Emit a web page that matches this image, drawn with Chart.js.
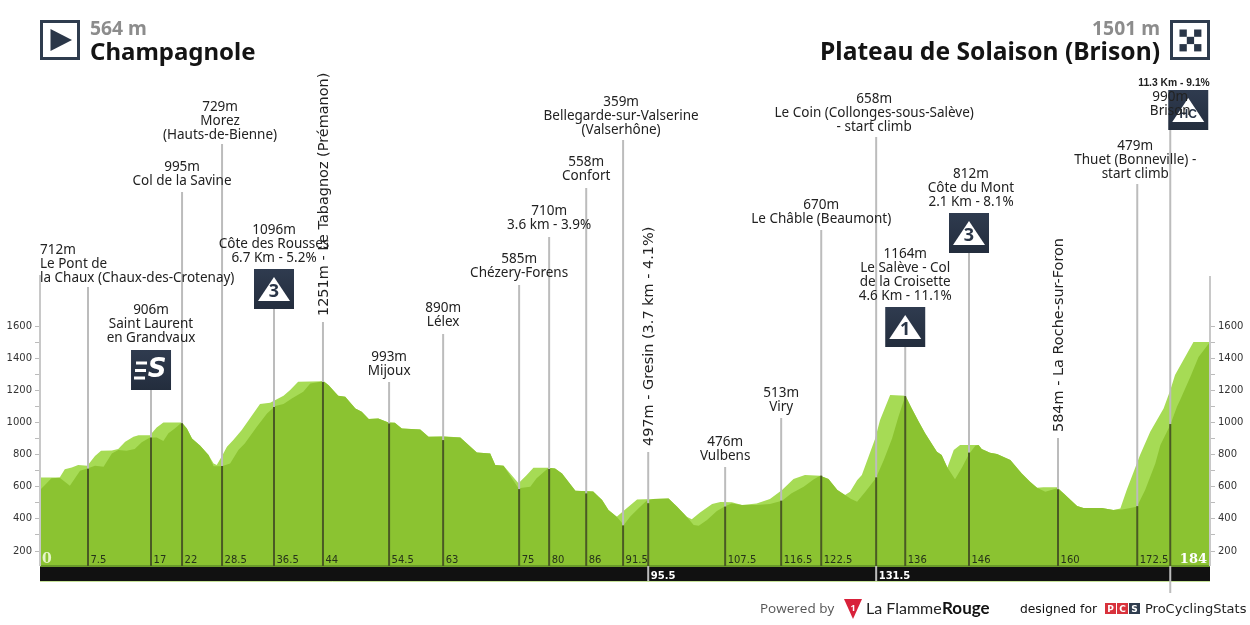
<!DOCTYPE html>
<html lang="en">
<head>
    <meta charset="UTF-8">
    <title>Champagnole - Plateau de Solaison (Brison)</title>
    <script src="https://cdn.jsdelivr.net/npm/chart.js"></script>
    <style>
        html, body { margin: 0; padding: 0; background: #fff; overflow: hidden; }
        canvas { display: block; }
    </style>
</head>
<body>
    <canvas id="profileChart" width="1250" height="625"></canvas>

    <script>
        // profile: light = top face, dark = front face
        const lightKm = [0,3.1,3.9,5,6,7.45,8.65,9.6,11.3,12.3,13.4,14.7,15.5,17.3,18.35,19.4,22.3,23.1,23.9,25.2,26.5,27.3,27.8,28.6,29.4,30.4,31.7,33,34.6,36.2,38.3,39.3,40.6,44.6,45.4,46.9,48,49.6,50.6,51.7,53.2,54.8,55.8,56.9,59.8,61.1,63.45,66.1,67.4,68.7,70.8,71.6,72.9,75.25,76.55,77.6,80,81,82.1,83.1,84.2,87,88.4,89.4,90.7,91.8,93.9,98.85,100.2,101.7,102.5,103.8,105.7,107,108.8,110.4,112.7,114.8,116.7,118.5,120.3,122.7,124,125.4,126.6,127.4,128.5,129.25,130.3,131.35,132.1,133.7,136.1,137.1,138.2,139.2,141.05,141.8,142.7,143.7,144.7,147.6,148.1,149.4,150.5,152.6,154.4,155.7,156.8,157.8,160,161,163.1,164.1,167,168.8,169.9,170.9,171.7,173,174.6,176.7,177.75,178.5,181.4,184];
        const lightElev = [658,658,708,720,735,730,791,824,826,834,880,911,921,921,969,1000,1000,963,900,855,797,745,735,790,849,890,952,1025,1114,1122,1166,1201,1253,1257,1232,1166,1160,1087,1066,1021,1025,1000,998,963,956,911,914,907,859,813,807,735,730,621,673,718,718,714,683,631,575,571,517,455,413,451,521,527,476,413,397,440,492,505,503,486,496,523,579,648,673,668,648,579,548,569,641,673,787,900,1014,1170,1166,1087,1004,932,818,797,720,828,859,859,834,811,803,766,683,631,594,596,596,558,480,467,467,455,465,579,662,797,942,1087,1200,1295,1501,1501];

        const darkKm = [0,1.05,1.8,3.1,3.9,4.7,5.5,6.3,7.45,8.65,10,11.3,12.3,13.6,14.9,16,17.3,18.35,19.4,20.2,21.2,22.3,23.1,23.9,25.2,26.5,27.3,28.6,29.9,31.2,32.2,34.1,35.7,37,38.3,39.6,41.4,42.5,44.6,45.4,46.9,48,49.6,50.6,51.7,53.2,54.8,55.8,56.9,59.8,61.1,63.45,66.1,67.4,68.7,70.8,71.6,72.9,75.25,77.1,78.1,80,81,82.1,83.1,84.2,87,88.4,89.4,90.7,91.8,92.8,94.1,95.4,96.5,98.85,100.2,101.7,102.8,103.6,104.9,106.45,107.8,108.8,110.4,112.7,114.8,116.7,118.2,120.1,121.7,122.7,124,125.4,126.6,127.5,128.5,129.8,131.45,132.7,134,135,136.1,137.1,138.2,139.2,141.05,141.8,142.7,143.9,145,146.1,147.1,147.6,148.1,149.4,150.5,152.6,154.4,155.7,156.8,158.1,160,161,163.1,164.1,167,168.8,170.2,172.5,173.8,175.4,176.2,177.75,178.8,179.3,180.9,182.2,184];
        const darkElev = [579,621,652,656,631,606,652,700,714,730,724,807,828,824,834,876,907,907,884,932,963,1000,963,900,855,797,728,728,745,828,869,973,1056,1102,1114,1149,1191,1243,1257,1232,1166,1160,1087,1066,1021,1025,1000,998,963,956,911,911,907,859,813,807,735,730,590,600,652,718,714,683,631,575,571,517,455,413,362,413,465,513,523,527,476,413,362,357,393,449,480,496,486,486,492,513,559,600,646,668,648,579,548,525,507,569,652,766,900,1035,1166,1087,1004,932,818,797,720,646,720,803,855,859,834,811,803,766,683,631,594,569,590,558,480,467,467,455,459,476,579,745,859,984,1097,1140,1283,1407,1501];

        // places along the route, km as measured, printed km rounded to .5
        const markerKm = [7.55,17.46,22.34,28.63,36.8,44.5,54.9,63.4,75.35,80.07,85.9,91.7,95.65,107.75,116.56,122.86,131.5,136.07,146.1,160.1,172.56,177.75];
        const markerElev = [712,906,995,729,1096,1251,993,890,585,710,558,359,497,476,513,670,658,1164,812,584,479,990];
        const markerKmLabels = ['7.5','17','22','28.5','36.5','44','54.5','63','75','80','86','91.5','95.5','107.5','116.5','122.5','131.5','136','146','160','172.5',''];
        const markerText = [
            ['712m', 'Le Pont de', 'la Chaux (Chaux-des-Crotenay)'],
            ['906m', 'Saint Laurent', 'en Grandvaux'],
            ['995m', 'Col de la Savine'],
            ['729m', 'Morez', '(Hauts-de-Bienne)'],
            ['1096m', 'Côte des Rousses', '6.7 Km - 5.2%'],
            ['1251m - Le Tabagnoz (Prémanon)'],
            ['993m', 'Mijoux'],
            ['890m', 'Lélex'],
            ['585m', 'Chézery-Forens'],
            ['710m', '3.6 km - 3.9%'],
            ['558m', 'Confort'],
            ['359m', 'Bellegarde-sur-Valserine', '(Valserhône)'],
            ['497m - Gresin (3.7 km - 4.1%)'],
            ['476m', 'Vulbens'],
            ['513m', 'Viry'],
            ['670m', 'Le Châble (Beaumont)'],
            ['658m', 'Le Coin (Collonges-sous-Salève)', '- start climb'],
            ['1164m', 'Le Salève - Col', 'de la Croisette', '4.6 Km - 11.1%'],
            ['812m', 'Côte du Mont', '2.1 Km - 8.1%'],
            ['584m - La Roche-sur-Foron'],
            ['479m', 'Thuet (Bonneville) -', 'start climb'],
            ['990m', 'Brison']
        ];
        const badgeText = { 1: 'S', 4: '3', 17: '1', 18: '3', 21: 'HC' };
        const elevationTicks = [200,300,400,500,600,700,800,900,1000,1100,1200,1300,1400,1500,1600];

        // pixel layout of the chart, not data
        const stemTopPx = [287,390,192,144,309,322,382,334,285,237,188,140,452,467,418,230,137,347,253,438,184,127];
        const labelTopPx = [249,309,166,106,229,0,356,307,258,210,161,101,0,441,392,204,98,253,173,0,145,96];
        const labelShiftX = { 3: -2, 11: -2, 16: -2, 18: 2, 20: -2 };
        const badgeShiftX = { 21: 18 };
        const badgeBottomPx = { 21: 130 };
        const rotatedLabels = [5, 12, 19];
        const throughBand = { 12: 581, 16: 581, 21: 593 };
        const PX_PER_M = 0.1607;
        const elevAt = px => 200 + (551 - px) / PX_PER_M;
        const baseElev = elevAt(566);
        const bandElev = elevAt(581);

        const labelFont = '13.5px "Noto Sans"';
        const rotatedFont = '14.45px "DejaVu Sans"';
        const navy = '#2a3648';

        function toPoints(xs, ys) {
            return xs.map((x, i) => ({ x: x, y: ys[i] }));
        }

        function stem(km, from, to, color) {
            return {
                data: [{ x: km, y: from }, { x: km, y: to }],
                borderColor: color, borderWidth: 2, pointRadius: 0, fill: false, clip: false
            };
        }

        const datasets = [];
        // front marks first, chart.js paints the first dataset on top
        markerKm.forEach((km, i) => {
            datasets.push(stem(km, baseElev, markerElev[i], '#4a5a24'));
            datasets.push(stem(km, markerElev[i], elevAt(stemTopPx[i]), '#bcbcbc'));
            if (throughBand[i]) {
                datasets.push(stem(km, baseElev, elevAt(throughBand[i]), '#bcbcbc'));
            }
        });
        datasets.push(stem(0, baseElev, elevAt(275), '#c8c8c8'));
        datasets.push(stem(184, baseElev, elevAt(276), '#c8c8c8'));
        datasets.push({
            data: [{ x: 0, y: baseElev }, { x: 184, y: baseElev }],
            borderColor: '#6a9a2a', borderWidth: 2, pointRadius: 0,
            backgroundColor: '#111111', fill: { value: bandElev }, clip: false
        });
        datasets.push({
            data: [{ x: 0, y: bandElev }, { x: 184, y: bandElev }],
            borderColor: '#8cc431', borderWidth: 1, pointRadius: 0, fill: false, clip: false
        });
        datasets.push({
            data: toPoints(darkKm, darkElev),
            borderWidth: 0, pointRadius: 0, backgroundColor: '#8bc331', fill: { value: baseElev }
        });
        datasets.push({
            data: toPoints(lightKm, lightElev),
            borderWidth: 0, pointRadius: 0, backgroundColor: '#a6db55', fill: { value: baseElev }
        });

        function drawBadge(ctx, cx, bottom, text) {
            const left = cx - 20, top = bottom - 40;
            const grad = ctx.createLinearGradient(0, top, 0, bottom);
            grad.addColorStop(0, '#2f3b4f');
            grad.addColorStop(1, '#232d3d');
            ctx.fillStyle = grad;
            ctx.fillRect(left, top, 40, 40);
            ctx.fillStyle = '#fff';
            ctx.textAlign = 'center';
            ctx.textBaseline = 'middle';
            if (text === 'S') {
                ctx.fillRect(cx - 15, top + 11.5, 11, 3);
                ctx.fillRect(cx - 16, top + 19, 11, 3);
                ctx.fillRect(cx - 17, top + 26.5, 11, 3);
                ctx.font = 'italic bold 26px "DejaVu Sans"';
                ctx.fillText('S', cx + 6, top + 20);
                return;
            }
            ctx.beginPath();
            ctx.moveTo(cx, top + 8);
            ctx.lineTo(left + 36, top + 32);
            ctx.lineTo(left + 4, top + 32);
            ctx.closePath();
            ctx.fill();
            ctx.fillStyle = navy;
            ctx.font = text === 'HC' ? 'bold 12px "Liberation Sans"' : 'bold 18px "Open Sans"';
            ctx.fillText(text, cx, top + (text === 'HC' ? 25 : 23));
        }

        const drawText = (ctx, text, x, y, font, color, align) => {
            ctx.font = font;
            ctx.fillStyle = color;
            ctx.textAlign = align || 'left';
            ctx.textBaseline = 'alphabetic';
            ctx.fillText(text, x, y);
        };

        const labelsPlugin = {
            id: 'stageLabels',
            afterDatasetsDraw(chart) {
                const ctx = chart.ctx;
                const x = chart.scales.x;
                ctx.save();

                // start and finish
                ctx.strokeStyle = '#2f3c4e';
                ctx.lineWidth = 3;
                ctx.strokeRect(41.5, 21.5, 37, 37);
                ctx.strokeRect(1171.5, 21.5, 37, 37);
                ctx.fillStyle = navy;
                ctx.beginPath();
                ctx.moveTo(50.5, 29);
                ctx.lineTo(72, 40);
                ctx.lineTo(50.5, 51);
                ctx.closePath();
                ctx.fill();
                for (let row = 0; row < 3; row++) {
                    for (let col = 0; col < 3; col++) {
                        if ((row + col) % 2 === 0) {
                            ctx.fillRect(1179.5 + col * 7.3, 29.5 + row * 7.3, 7.3, 7.3);
                        }
                    }
                }
                drawText(ctx, '564 m', 90, 35, 'bold 19.3px "Noto Sans"', '#8c8c8c');
                drawText(ctx, 'Champagnole', 90, 60, 'bold 24px "Noto Sans"', '#141414');
                drawText(ctx, '1501 m', 1160, 35, 'bold 19.3px "Noto Sans"', '#8c8c8c', 'right');
                drawText(ctx, 'Plateau de Solaison (Brison)', 1160, 60, 'bold 24.6px "Noto Sans"', '#141414', 'right');

                markerKm.forEach((km, i) => {
                    if (badgeText[i]) {
                        const px = x.getPixelForValue(km) + (badgeShiftX[i] || 0);
                        drawBadge(ctx, px, badgeBottomPx[i] || stemTopPx[i], badgeText[i]);
                    }
                });

                // place names
                markerKm.forEach((km, i) => {
                    const px = x.getPixelForValue(km);
                    if (rotatedLabels.includes(i)) {
                        ctx.save();
                        ctx.translate(px, stemTopPx[i] - 6);
                        ctx.rotate(-Math.PI / 2);
                        drawText(ctx, markerText[i][0], 0, 5, rotatedFont, '#222');
                        ctx.restore();
                        return;
                    }
                    markerText[i].forEach((line, n) => {
                        const y = labelTopPx[i] + n * 14 + 5;
                        if (i === 0) {
                            drawText(ctx, line, 40, y, labelFont, '#222');
                        } else {
                            drawText(ctx, line, px + (labelShiftX[i] || 0), y, labelFont, '#222', 'center');
                        }
                    });
                });

                // km along the bottom
                markerKmLabels.forEach((label, i) => {
                    const px = x.getPixelForValue(markerKm[i]);
                    if (throughBand[i] === 581) {
                        drawText(ctx, label, px + 2.5, 579, 'bold 10px "DejaVu Sans"', '#fff');
                    } else {
                        drawText(ctx, label, px + 2.5, 563, '10px "DejaVu Sans"', '#26331a');
                    }
                });
                drawText(ctx, '0', 42, 563, 'bold 14px "DejaVu Serif"', '#e6f5c8');
                drawText(ctx, '184', 1207, 563, 'bold 13px "DejaVu Serif"', '#fff', 'right');
                drawText(ctx, '11.3 Km - 9.1%', 1174, 86, 'bold 10.3px "Liberation Sans"', '#222', 'center');

                // footer
                drawText(ctx, 'Powered by', 760, 613, '13.5px "Open Sans"', '#555');
                ctx.fillStyle = '#d8213a';
                ctx.beginPath();
                ctx.moveTo(844, 599);
                ctx.lineTo(862, 599);
                ctx.lineTo(853, 619);
                ctx.closePath();
                ctx.fill();
                drawText(ctx, '1', 853, 611, 'bold 9px "Open Sans"', '#fff', 'center');
                drawText(ctx, 'La Flamme', 866, 614, '16px "Lato"', '#222');
                drawText(ctx, 'Rouge', 942, 614, 'bold 17px "Lato"', '#111');
                drawText(ctx, 'designed for', 1020, 613, '12.3px "DejaVu Sans"', '#111');
                [['P', '#d8323c', 1105], ['C', '#d8323c', 1117], ['S', '#2f3c4e', 1129]].forEach(b => {
                    ctx.fillStyle = b[1];
                    ctx.fillRect(b[2], 603, 11, 11);
                    drawText(ctx, b[0], b[2] + 5.5, 612, 'bold 9px "DejaVu Sans"', '#fff', 'center');
                });
                drawText(ctx, 'ProCyclingStats', 1145, 613, '13px "DejaVu Sans"', '#222');
                ctx.restore();
            }
        };

        function yAxis(position) {
            return {
                type: 'linear',
                position: position,
                min: elevAt(625),
                max: elevAt(0),
                afterBuildTicks: axis => { axis.ticks = elevationTicks.map(v => ({ value: v })); },
                afterFit: axis => {
                    axis.width = 40;
                    axis.paddingTop = 0;
                    axis.paddingBottom = 0;
                },
                border: { display: false },
                grid: { drawOnChartArea: false, color: '#bbbbbb', tickLength: 5 },
                ticks: {
                    autoSkip: false,
                    padding: 3,
                    font: { family: 'DejaVu Sans', size: 10 },
                    color: '#333',
                    callback: value => (value % 200 === 0 ? String(value) : '')
                }
            };
        }

        new Chart(document.getElementById('profileChart').getContext('2d'), {
            type: 'line',
            data: { datasets: datasets },
            plugins: [labelsPlugin],
            options: {
                responsive: false,
                animation: false,
                events: [],
                layout: { padding: 0 },
                elements: { line: { tension: 0 } },
                plugins: { legend: { display: false }, title: { display: false }, tooltip: { enabled: false } },
                scales: {
                    x: { type: 'linear', min: 0, max: 184, display: false },
                    y: yAxis('left'),
                    yRight: yAxis('right')
                }
            }
        });
    </script>
</body>
</html>
